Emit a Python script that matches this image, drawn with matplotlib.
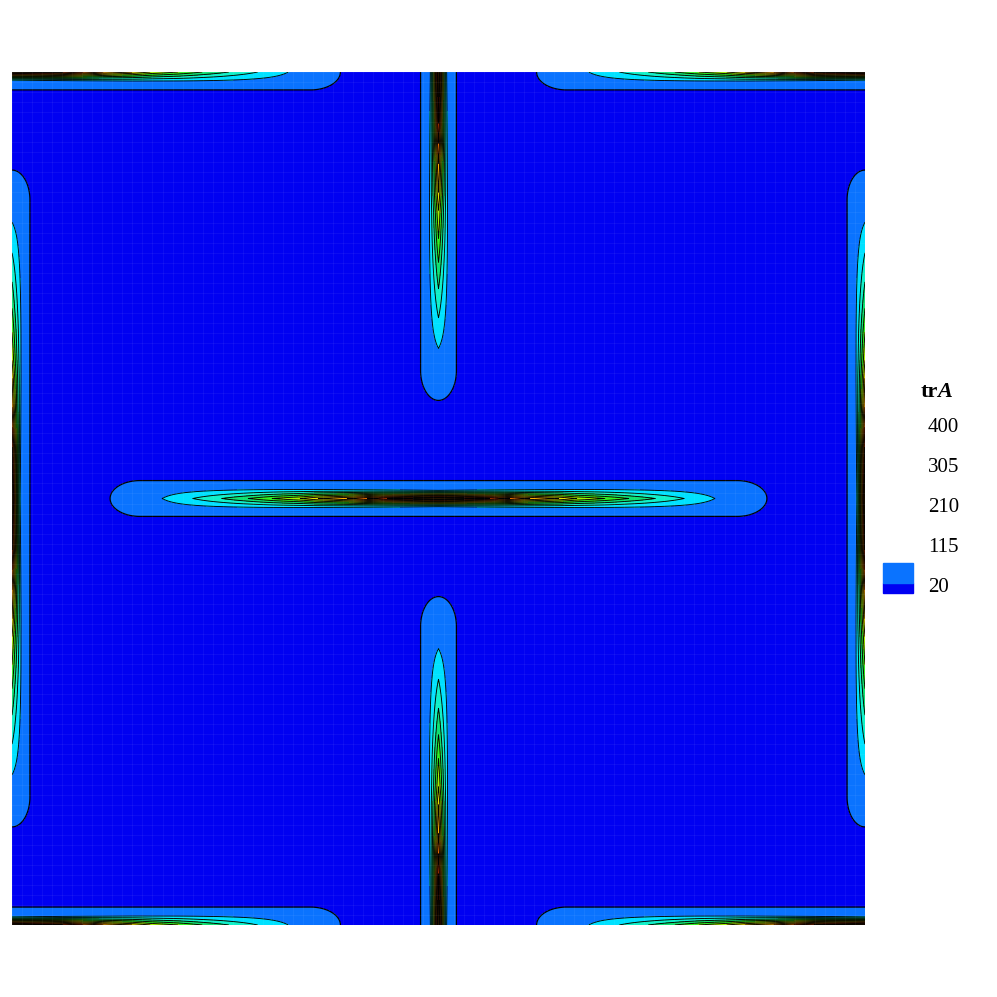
import numpy as np
import matplotlib
matplotlib.use("Agg")
import matplotlib.pyplot as plt
from matplotlib.patches import Rectangle

# ---------------- data ----------------
legend_labels = [400, 305, 210, 115, 20]
contour_levels = [0, 20, 58, 96, 134, 172, 210, 248, 286, 324, 362, 400, 2000]
band_colors = ['#0000F2', '#0A73FF', '#00E1FF', '#10F0C8', '#10E070', '#30F020',
               '#A0F000', '#E8E000', '#FFB000', '#FF7A00', '#E04000', '#2A1800']
# centreline value of trA along each stretched strand (distance from strand centre)
profile_s = [0.0, 0.06, 0.107, 0.141, 0.162, 0.195, 0.223, 0.254, 0.288, 0.324, 0.345, 0.5]
profile_val = [450, 400, 324, 286, 248, 210, 172, 134, 96, 58, 35, 35]
# strands: (orientation, across-centre, along-centre)
strands = [('v', 0.5, 0.0), ('v', 0.0, 0.5), ('h', 0.5, 0.5), ('h', 0.0, 0.0)]
background_value = 5.0
plateau_value = 30.0
tip_length = 0.385
tip_round = 0.035
outer_halfwidth = 0.021

# ---------------- field ----------------
n = 1401
xs = np.linspace(0, 1, n)
X, Y = np.meshgrid(xs, xs)


def pdist(a, c):
    return np.abs((a - c + 0.5) % 1.0 - 0.5)


core_q = np.clip(np.array(profile_val, float) - background_value - plateau_value, 0, None)
field = np.zeros_like(X)
for orient, c_across, c_along in strands:
    if orient == 'v':
        d = pdist(X, c_across); s = pdist(Y, c_along)
    else:
        d = pdist(Y, c_across); s = pdist(X, c_along)
    beyond = np.maximum(s - (tip_length - tip_round), 0) * (outer_halfwidth / tip_round)
    r = np.sqrt(d ** 2 + beyond ** 2)
    G = 1 / (1 + (r / outer_halfwidth) ** 8)
    Q = np.interp(s, profile_s, core_q)
    W = 0.0105 + 0.012 * s
    g = np.clip(1 - d / W, 0, None) ** 1.2
    field = np.maximum(field, plateau_value * G + Q * g)
field += background_value

# ---------------- figure ----------------
fig = plt.figure(figsize=(9.97, 9.97), dpi=100)
ax = fig.add_axes([12 / 997, 72 / 997, 853 / 997, 853 / 997])
ax.contourf(X, Y, field, levels=contour_levels, colors=band_colors)
ax.contour(X, Y, field, levels=contour_levels[1:2], colors='black', linewidths=0.9)
ax.contour(X, Y, field, levels=contour_levels[2:-1], colors='black', linewidths=0.65)
ax.set_xlim(0, 1)
ax.set_ylim(0, 1)
ax.set_xticks(np.linspace(0, 1, 86), minor=True)
ax.set_yticks(np.linspace(0, 1, 86), minor=True)
ax.set_xticks([])
ax.set_yticks([])
ax.grid(which='minor', color='white', alpha=0.06, lw=0.6)
ax.tick_params(which='both', length=0)
ax.set_axisbelow(False)
for sp in ax.spines.values():
    sp.set_visible(False)

# legend
serif = 'Liberation Serif'
fig.text(921 / 997, 1 - 392 / 997, 'tr', fontsize=16, fontweight='bold', family=serif,
         ha='left', va='center')
fig.text(937 / 997, 1 - 392 / 997, 'A', fontsize=16, fontweight='bold', style='italic',
         family=serif, ha='left', va='center')
for i, lab in enumerate(legend_labels):
    fig.text(928 / 997, 1 - (427 + 40 * i) / 997, str(lab), fontsize=15, family=serif,
             ha='left', va='center')
fig.patches.append(Rectangle((883 / 997, 1 - 593 / 997), 30 / 997, 10 / 997,
                             transform=fig.transFigure, color=band_colors[0]))
fig.patches.append(Rectangle((883 / 997, 1 - 583 / 997), 30 / 997, 20 / 997,
                             transform=fig.transFigure, color=band_colors[1]))

fig.savefig('out.png', dpi=100)
